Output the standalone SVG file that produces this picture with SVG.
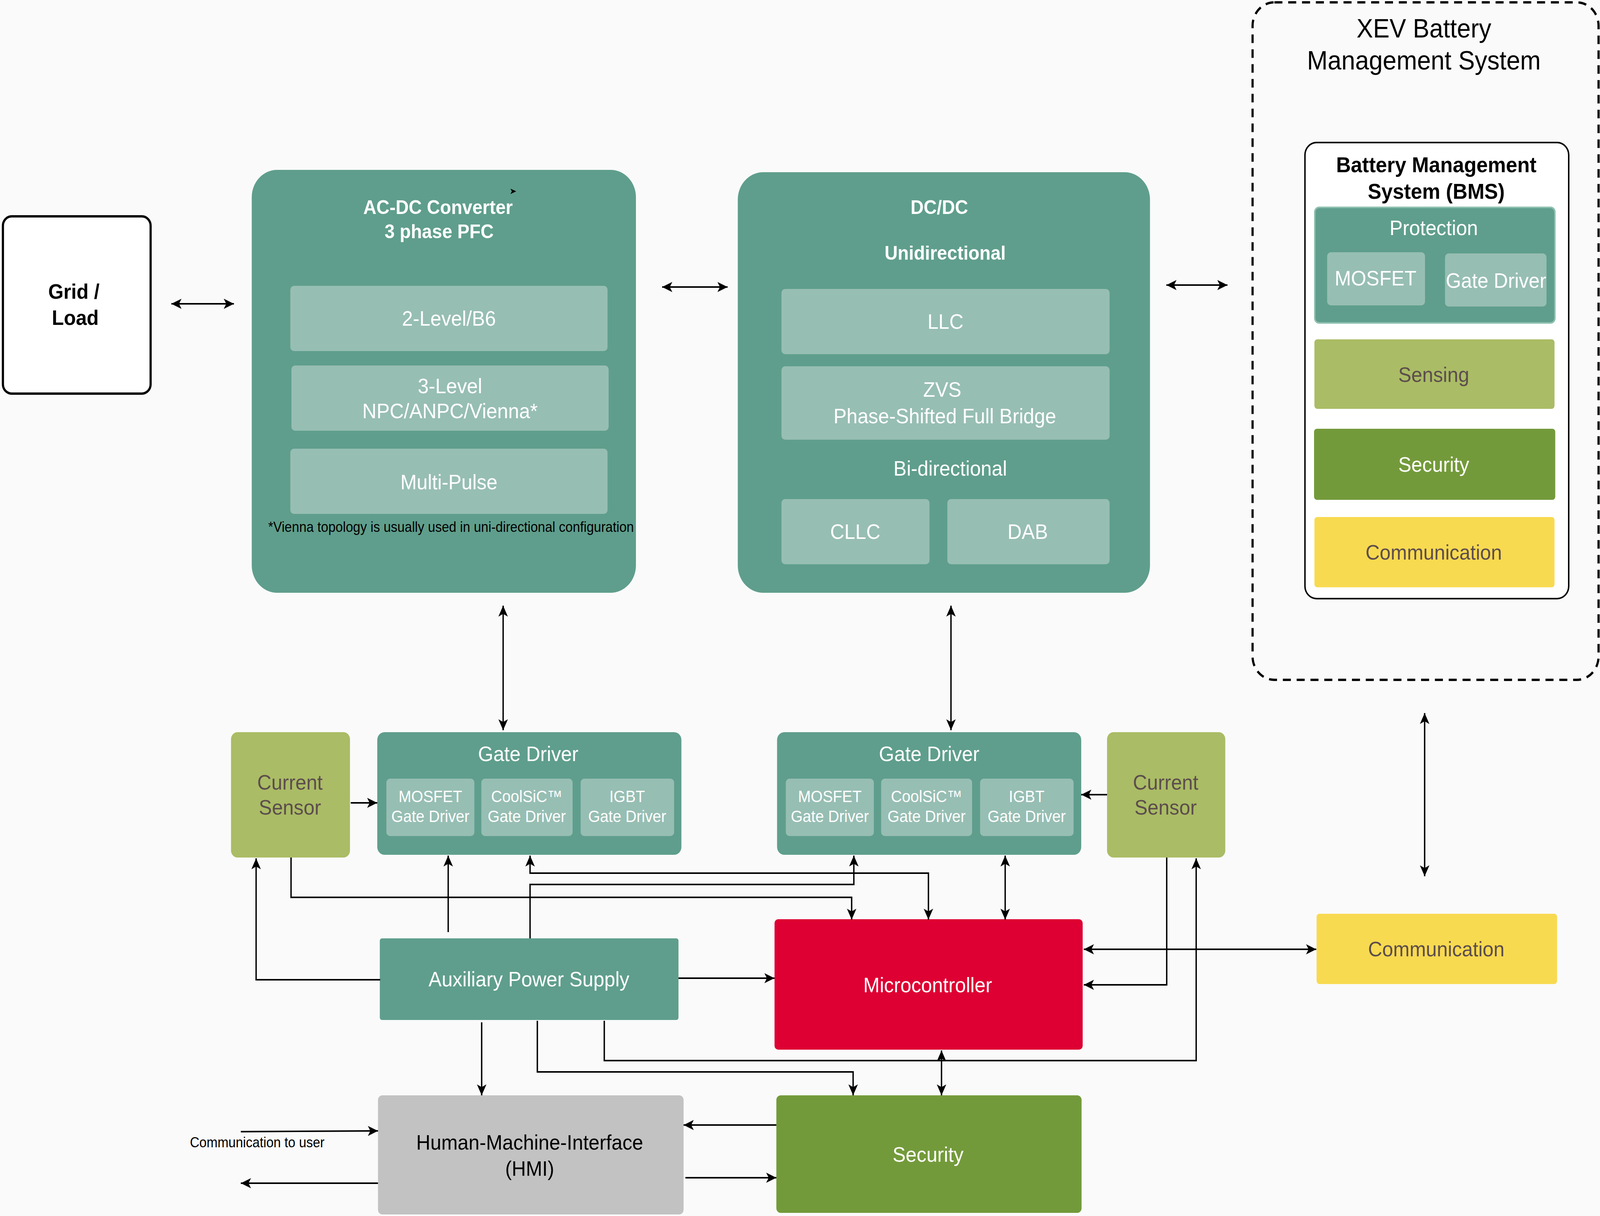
<svg xmlns="http://www.w3.org/2000/svg" width="4398" height="3114" viewBox="0 0 4398 3114" preserveAspectRatio="none" style="width:100vw;height:100vh;display:block">
<defs>
<marker id="arr" viewBox="0 0 28 26" refX="28" refY="13" markerWidth="28" markerHeight="26" markerUnits="userSpaceOnUse" orient="auto-start-reverse">
<path d="M0,0 L28,13 L0,26 L7,13 Z" fill="#000"/>
</marker>
<style>
text{font-family:"Liberation Sans",Arial,sans-serif;}
.teal{fill:#5F9E8C;}
.sub{fill:#97BEB3;}
.olive{fill:#AABC65;}
.dgreen{fill:#739A3A;}
.yellow{fill:#F8DA50;}
.red{fill:#DE0033;}
.grey{fill:#C2C2C2;}
.w{fill:#FFFFFF;font-size:54px;text-anchor:middle;}
.wb{fill:#FFFFFF;font-size:50px;font-weight:bold;text-anchor:middle;}
.ws{fill:#FFFFFF;font-size:42px;text-anchor:middle;}
.d{fill:#5C4D4D;font-size:54px;text-anchor:middle;}
.k{fill:#000;font-size:54px;text-anchor:middle;}
.conn path{fill:none;stroke:#000;stroke-width:3.8;}
.both{marker-start:url(#arr);marker-end:url(#arr);}
.end{marker-end:url(#arr);}
</style>
</defs>
<rect x="0" y="0" width="4398" height="3114" fill="#FAFAFA"/>

<g id="grid-load">
<rect x="8" y="554" width="406" height="454" rx="24" fill="#FFFFFF" stroke="#000" stroke-width="6"/>
<text x="203" y="765" style="font-size:54px;font-weight:bold;text-anchor:middle;fill:#000">Grid /</text>
<text x="207" y="832" style="font-size:54px;font-weight:bold;text-anchor:middle;fill:#000">Load</text>
</g>

<g id="acdc">
<rect class="teal" x="692" y="435" width="1056" height="1083" rx="70"/>
<text class="wb" x="1204" y="548">AC-DC Converter</text>
<text class="wb" x="1207" y="610">3 phase PFC</text>
<polygon points="1403,483 1419,490 1403,497 1407,490" fill="#000"/>
<rect class="sub" x="798" y="732" width="872" height="167" rx="10"/>
<text class="w" x="1234" y="834">2-Level/B6</text>
<rect class="sub" x="801" y="936" width="872" height="167" rx="10"/>
<text class="w" x="1237" y="1007">3-Level</text>
<text class="w" x="1237" y="1071">NPC/ANPC/Vienna*</text>
<rect class="sub" x="798" y="1149" width="872" height="167" rx="10"/>
<text class="w" x="1234" y="1253">Multi-Pulse</text>
<text x="737" y="1362" style="font-size:36px;fill:#000">*Vienna topology is usually used in uni-directional configuration</text>
</g>

<g id="dcdc">
<rect class="teal" x="2028" y="441" width="1133" height="1077" rx="70"/>
<text class="wb" x="2582" y="548">DC/DC</text>
<text class="wb" x="2598" y="665">Unidirectional</text>
<rect class="sub" x="2148" y="740" width="902" height="167" rx="10"/>
<text class="w" x="2599" y="842">LLC</text>
<rect class="sub" x="2148" y="938" width="902" height="188" rx="10"/>
<text class="w" x="2590" y="1016">ZVS</text>
<text class="w" x="2597" y="1084">Phase-Shifted Full Bridge</text>
<text class="w" x="2612" y="1218">Bi-directional</text>
<rect class="sub" x="2148" y="1278" width="407" height="167" rx="10"/>
<text class="w" x="2351" y="1380">CLLC</text>
<rect class="sub" x="2604" y="1278" width="446" height="167" rx="10"/>
<text class="w" x="2825" y="1380">DAB</text>
</g>

<g id="xev-bms">
<rect x="3443" y="6" width="951" height="1735" rx="60" fill="none" stroke="#000" stroke-width="6" stroke-dasharray="22,16"/>
<text x="3914" y="96" style="font-size:68px;fill:#000;text-anchor:middle">XEV Battery</text>
<text x="3914" y="178" style="font-size:68px;fill:#000;text-anchor:middle">Management System</text>
</g>

<g id="bms">
<rect x="3587" y="365" width="725" height="1168" rx="32" fill="#FFFFFF" stroke="#000" stroke-width="4"/>
<text x="3948" y="441" style="font-size:56px;font-weight:bold;fill:#000;text-anchor:middle">Battery Management</text>
<text x="3948" y="509" style="font-size:56px;font-weight:bold;fill:#000;text-anchor:middle">System (BMS)</text>
</g>

<g id="protection">
<rect class="teal" x="3614" y="531" width="660" height="296" rx="12" stroke="#8FC0B0" stroke-width="4"/>
<text class="w" x="3941" y="602">Protection</text>
<rect class="sub" x="3648" y="646" width="269" height="136" rx="10"/>
<text class="w" x="3781" y="731">MOSFET</text>
<rect class="sub" x="3972" y="649" width="279" height="136" rx="10"/>
<text class="w" x="4112" y="737">Gate Driver</text>
</g>

<g id="bms-sensing">
<rect class="olive" x="3613" y="869" width="660" height="178" rx="8"/>
<text class="d" x="3941" y="978">Sensing</text>
</g>
<g id="bms-security">
<rect class="dgreen" x="3612" y="1098" width="663" height="182" rx="8"/>
<text class="w" x="3941" y="1208">Security</text>
</g>
<g id="bms-communication">
<rect class="yellow" x="3613" y="1324" width="660" height="180" rx="8"/>
<text class="d" x="3941" y="1433">Communication</text>
</g>

<g id="current-sensor-left">
<rect class="olive" x="635" y="1875" width="327" height="321" rx="18"/>
<text class="d" x="797" y="2022">Current</text>
<text class="d" x="797" y="2086">Sensor</text>
</g>

<g id="gate-driver-left">
<rect class="teal" x="1037" y="1875" width="836" height="314" rx="20"/>
<text class="w" x="1452" y="1949">Gate Driver</text>
<rect class="sub" x="1062" y="1994" width="242" height="147" rx="10"/>
<text class="ws" x="1183" y="2054">MOSFET</text>
<text class="ws" x="1183" y="2105">Gate Driver</text>
<rect class="sub" x="1323" y="1994" width="251" height="147" rx="10"/>
<text class="ws" x="1448" y="2054">CoolSiC™</text>
<text class="ws" x="1448" y="2105">Gate Driver</text>
<rect class="sub" x="1596" y="1994" width="257" height="147" rx="10"/>
<text class="ws" x="1724" y="2054">IGBT</text>
<text class="ws" x="1724" y="2105">Gate Driver</text>
</g>

<g id="gate-driver-right">
<rect class="teal" x="2136" y="1875" width="836" height="314" rx="20"/>
<text class="w" x="2554" y="1949">Gate Driver</text>
<rect class="sub" x="2160" y="1994" width="242" height="147" rx="10"/>
<text class="ws" x="2281" y="2054">MOSFET</text>
<text class="ws" x="2281" y="2105">Gate Driver</text>
<rect class="sub" x="2422" y="1994" width="250" height="147" rx="10"/>
<text class="ws" x="2547" y="2054">CoolSiC™</text>
<text class="ws" x="2547" y="2105">Gate Driver</text>
<rect class="sub" x="2694" y="1994" width="257" height="147" rx="10"/>
<text class="ws" x="2822" y="2054">IGBT</text>
<text class="ws" x="2822" y="2105">Gate Driver</text>
</g>

<g id="current-sensor-right">
<rect class="olive" x="3043" y="1875" width="325" height="321" rx="18"/>
<text class="d" x="3204" y="2022">Current</text>
<text class="d" x="3204" y="2086">Sensor</text>
</g>

<g id="aux-power-supply">
<rect class="teal" x="1044" y="2403" width="821" height="209" rx="6"/>
<text class="w" x="1454" y="2526">Auxiliary Power Supply</text>
</g>

<g id="microcontroller">
<rect class="red" x="2129" y="2354" width="847" height="334" rx="10"/>
<text class="w" x="2550" y="2541">Microcontroller</text>
</g>

<g id="communication">
<rect class="yellow" x="3619" y="2340" width="661" height="180" rx="8"/>
<text class="d" x="3948" y="2449">Communication</text>
</g>

<g id="hmi">
<rect class="grey" x="1039" y="2805" width="840" height="305" rx="12"/>
<text class="k" x="1456" y="2944">Human-Machine-Interface</text>
<text class="k" x="1456" y="3011">(HMI)</text>
</g>

<g id="security">
<rect class="dgreen" x="2134" y="2805" width="839" height="301" rx="12"/>
<text class="w" x="2551" y="2975">Security</text>
</g>

<g id="comm-user-label">
<text x="522" y="2938" style="font-size:36px;fill:#000">Communication to user</text>
</g>

<g id="connectors" class="conn">
<path class="both" d="M471,778 H643"/>
<path class="both" d="M1820,735 H2000"/>
<path class="both" d="M3206,730 H3374"/>
<path class="both" d="M1383,1551 V1870"/>
<path class="both" d="M2614,1551 V1870"/>
<path class="both" d="M3916,1826 V2244"/>
<path class="end" d="M964,2056 H1037"/>
<path class="end" d="M3043,2035 H2972"/>
<path class="end" d="M1045,2509 H704 V2198"/>
<path class="end" d="M800,2196 V2298 H2341 V2355"/>
<path class="end" d="M1232,2387 V2191"/>
<path class="both" d="M1457,2191 V2236 H2552 V2355"/>
<path class="end" d="M1457,2403 V2265 H2347 V2191"/>
<path class="both" d="M2763,2191 V2355"/>
<path class="end" d="M3207,2196 V2522 H2979"/>
<path class="both" d="M2979,2431 H3618"/>
<path class="end" d="M1865,2505 H2129"/>
<path class="end" d="M1661,2614 V2716 H3288 V2198"/>
<path class="both" d="M2588,2690 V2805"/>
<path class="end" d="M1477,2614 V2745 H2345 V2805"/>
<path class="end" d="M1324,2618 V2805"/>
<path class="end" d="M2134,2881 H1879"/>
<path class="end" d="M1884,3016 H2134"/>
<path class="end" d="M662,2898 L1039,2896"/>
<path class="end" d="M1039,3030 L662,3030"/>
</g>
</svg>
